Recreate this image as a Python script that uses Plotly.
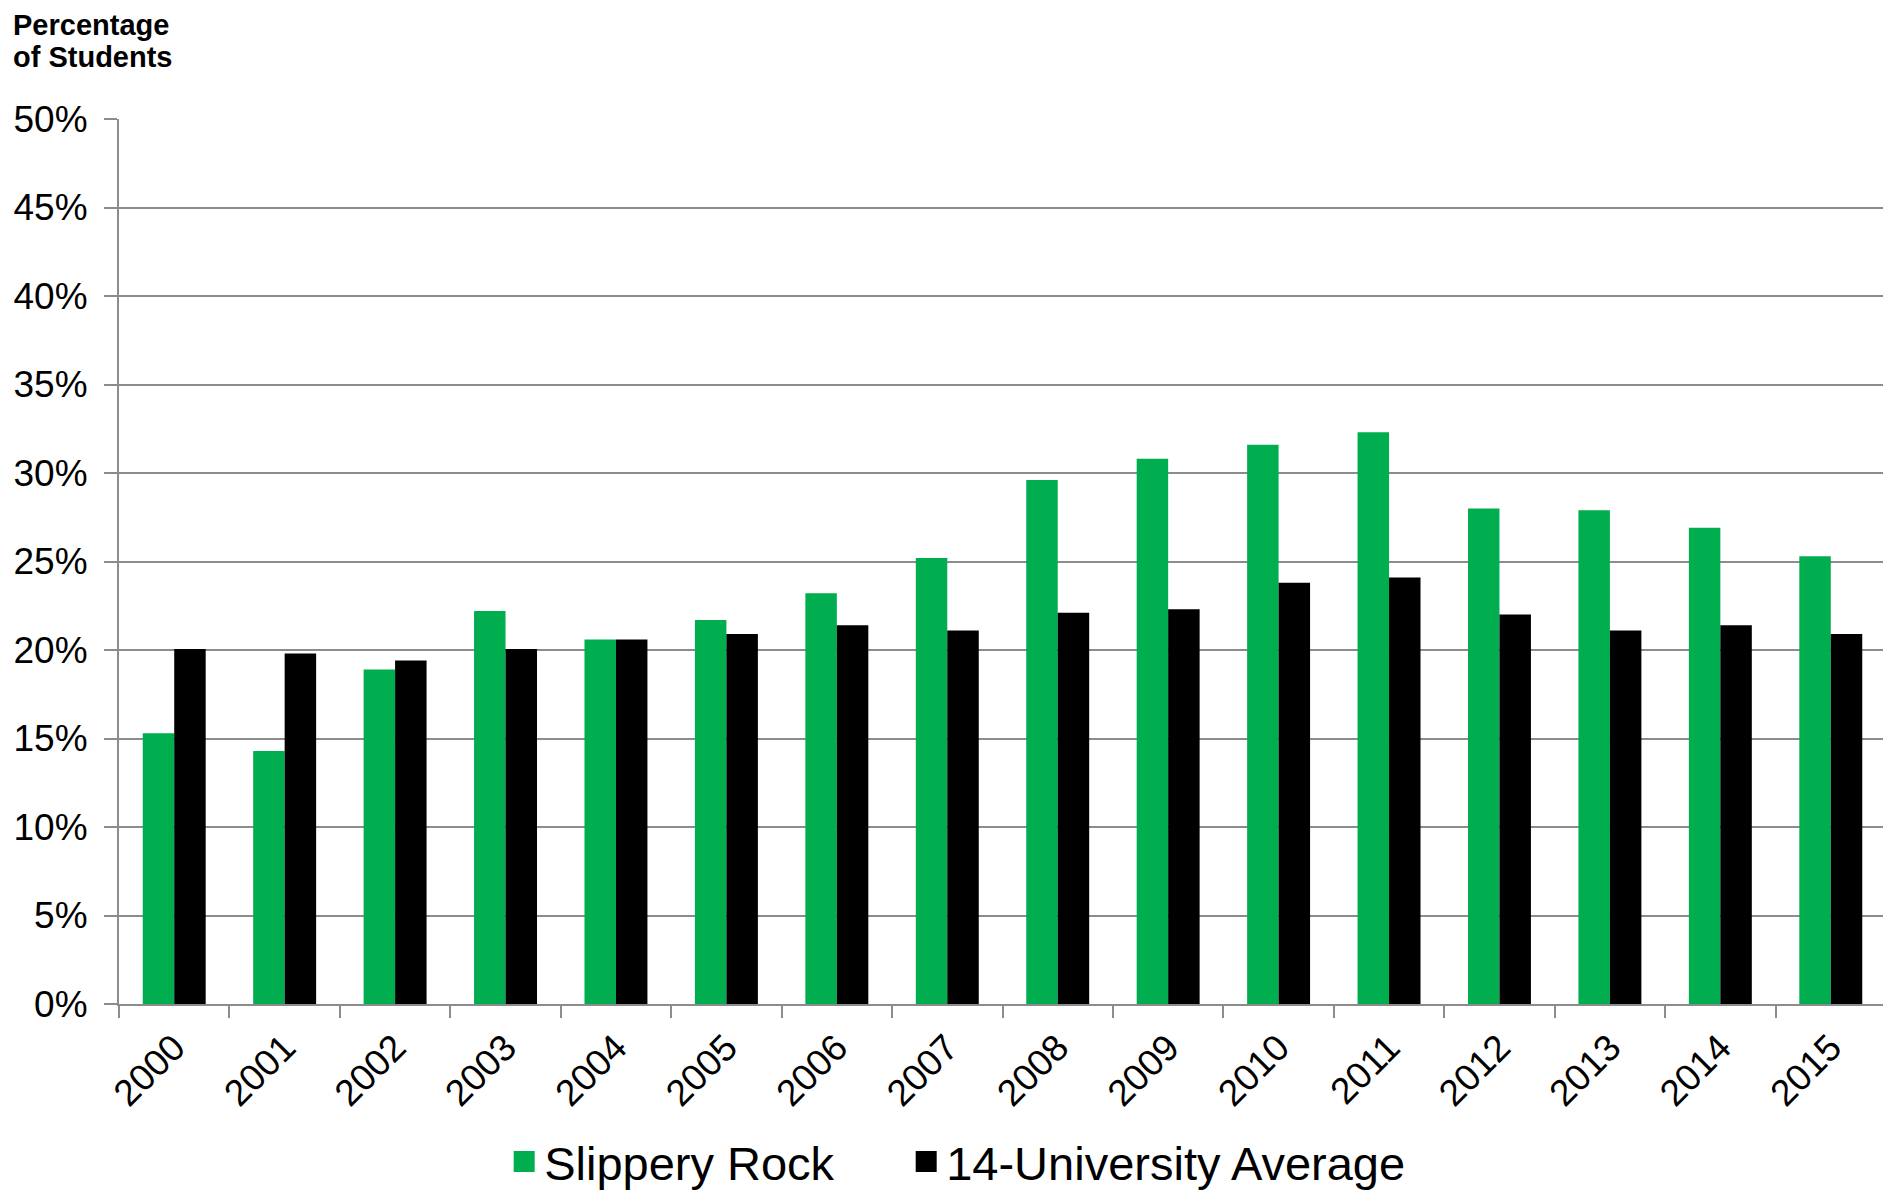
import plotly.graph_objects as go

years = ["2000", "2001", "2002", "2003", "2004", "2005", "2006", "2007",
         "2008", "2009", "2010", "2011", "2012", "2013", "2014", "2015"]
slippery_rock = [15.3, 14.3, 18.9, 22.2, 20.6, 21.7, 23.2, 25.2,
                 29.6, 30.8, 31.6, 32.3, 28.0, 27.9, 26.9, 25.3]
univ_avg = [20.05, 19.8, 19.4, 20.05, 20.6, 20.9, 21.4, 21.1,
            22.1, 22.3, 23.8, 24.1, 22.0, 21.1, 21.4, 20.9]
series_names = ["Slippery Rock", "14-University Average"]
y_ticks = [0, 5, 10, 15, 20, 25, 30, 35, 40, 45, 50]
title_lines = ["Percentage", "of Students"]

GREEN = "#00AD4F"
BLACK = "#000000"
GRID = "#8C8C8C"
FONT = "Liberation Sans, Arial, sans-serif"

fig = go.Figure()
fig.add_trace(go.Bar(x=years, y=slippery_rock, name=series_names[0],
                     marker=dict(color=GREEN, line=dict(width=0)), showlegend=False))
fig.add_trace(go.Bar(x=years, y=univ_avg, name=series_names[1],
                     marker=dict(color=BLACK, line=dict(width=0)), showlegend=False))
# legend entries with large square swatches, one legend per entry
for nm, col, lg in zip(series_names, [GREEN, BLACK], ["legend", "legend2"]):
    fig.add_trace(go.Scatter(x=[None], y=[None], mode="markers", name=nm,
                             marker=dict(symbol="square", size=24, color=col,
                                         line=dict(color=col, width=6)),
                             showlegend=True, legend=lg))

legend_common = dict(orientation="h", xref="container", yref="container",
                     xanchor="left", y=0.0253, yanchor="middle",
                     font=dict(size=47, family=FONT, color="black"),
                     itemsizing="trace", bgcolor="rgba(0,0,0,0)")

fig.update_layout(
    width=1883, height=1184,
    margin=dict(l=111, r=5, t=111, b=188, autoexpand=False),
    paper_bgcolor="white", plot_bgcolor="white",
    barmode="group", bargap=0.43, bargroupgap=0,
    font=dict(family=FONT, color="black"),
    showlegend=True,
    legend=dict(x=0.2635, **legend_common),
    legend2=dict(x=0.477, **legend_common),
    xaxis=dict(type="category", categoryorder="array", categoryarray=years,
               showline=True, linecolor=GRID, linewidth=2,
               ticks="outside", ticklen=12, tickwidth=2, tickcolor=GRID,
               tickson="boundaries", tickangle=-45, automargin=False,
               ticklabelstandoff=5,
               tickfont=dict(size=37, family=FONT, color="black"),
               showgrid=False, zeroline=False),
    yaxis=dict(range=[0, 50], tickvals=y_ticks,
               ticktext=[f"{v}%" for v in y_ticks],
               showline=True, linecolor=GRID, linewidth=2,
               ticks="outside", ticklen=13, tickwidth=2, tickcolor=GRID,
               showgrid=True, gridcolor=GRID, gridwidth=2, automargin=False,
               zeroline=False, ticklabelstandoff=9,
               tickfont=dict(size=37, family=FONT, color="black")),
    annotations=[dict(text=f"<b>{t}</b>", xref="paper", yref="paper",
                      x=-0.0604, y=yy, xanchor="left", yanchor="top", align="left",
                      showarrow=False, borderpad=0,
                      font=dict(size=29, family=FONT, color="black"))
                 for t, yy in zip(title_lines, [1.1254, 1.0895])],
)

fig.write_html("out.html")
